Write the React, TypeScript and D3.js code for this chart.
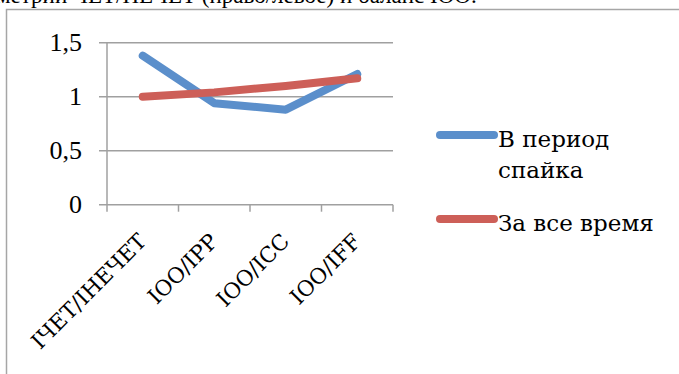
import React from "react";
import * as d3 from "d3";

const categories = ["IЧЕТ/IНЕЧЕТ", "IOO/IPP", "IOO/ICC", "IOO/IFF"];
const seriesNames = ["В период спайка", "За все время"];
const spikeValues = [1.38, 0.94, 0.88, 1.21];
const allTimeValues = [1.0, 1.04, 1.1, 1.17];
const yTicks = [0, 0.5, 1, 1.5];
const yTickLabels = ["0", "0,5", "1", "1,5"];
const colors = ["#5B8FCB", "#CD5F58"];
const titleText = "метрии ЧЕТ/НЕЧЕТ (право/левое) и баланс IOO.";

const W = 679;
const H = 374;
const SERIF = "'Liberation Serif', serif";
const WIDE = "'DejaVu Serif', serif";

export default function App() {
  const x = d3.scaleBand<string>().domain(categories).range([107, 393]);
  const y = d3.scaleLinear().domain([0, 1.5]).range([204.7, 42.7]);
  const line = d3
    .line<number>()
    .x((_, i) => (x(categories[i]) as number) + x.bandwidth() / 2)
    .y((d) => y(d));
  const series = [spikeValues, allTimeValues];
  const grid = "#A0A0A0";

  return (
    <svg
      width={W}
      height={H}
      style={{ position: "absolute", left: 0, top: 0, background: "#fff" }}
    >
      <rect x={0} y={0} width={W} height={H} fill="#fff" />
      <text x={-4} y={3} fontSize={23} fill="#000" style={{ fontFamily: SERIF }}>{titleText}</text>
      {/* chart frame */}
      <path d={`M6.5,${H} V9.5 H${W}`} fill="none" stroke="#A6A6A6" strokeWidth={1.5} />
      {/* gridlines & y ticks */}
      {yTicks.map((t, i) => (
        <g key={t}>
          <line x1={99} x2={393} y1={y(t)} y2={y(t)} stroke={grid} strokeWidth={1.5} />
          <text x={82} y={y(t) + 8} fontSize={26} textAnchor="end" fill="#000" style={{ fontFamily: SERIF }}>
            {yTickLabels[i]}
          </text>
        </g>
      ))}
      {/* y axis */}
      <line x1={107} x2={107} y1={y(1.5)} y2={y(0)} stroke={grid} strokeWidth={1.5} />
      {/* x ticks */}
      {[...categories.map((c) => x(c) as number), 393].map((px, i) => (
        <line key={i} x1={px} x2={px} y1={y(0)} y2={y(0) + 7} stroke={grid} strokeWidth={1.5} />
      ))}
      {/* x labels */}
      {categories.map((c) => {
        const cx = (x(c) as number) + x.bandwidth() / 2 + 5;
        const cy = y(0) + 38;
        return (
          <text
            key={c}
            transform={`translate(${cx},${cy}) rotate(-45)`}
            textAnchor="end"
            fontSize={21.5}
            fill="#000"
            style={{ fontFamily: WIDE }}
          >
            {c}
          </text>
        );
      })}
      {/* lines */}
      {series.map((s, i) => (
        <path
          key={i}
          d={line(s) as string}
          fill="none"
          stroke={colors[i]}
          strokeWidth={8}
          strokeLinecap="round"
          strokeLinejoin="round"
        />
      ))}
      {/* legend */}
      <line x1={440} x2={494} y1={135} y2={135} stroke={colors[0]} strokeWidth={8} strokeLinecap="round" />
      <text x={498} y={147} fontSize={23} fill="#000" style={{ fontFamily: WIDE }}>В период</text>
      <text x={498} y={178} fontSize={23} fill="#000" style={{ fontFamily: WIDE }}>спайка</text>
      <line x1={440} x2={494} y1={219} y2={219} stroke={colors[1]} strokeWidth={8} strokeLinecap="round" />
      <text x={498} y={231} fontSize={23} fill="#000" style={{ fontFamily: WIDE }}>{seriesNames[1]}</text>
    </svg>
  );
}
